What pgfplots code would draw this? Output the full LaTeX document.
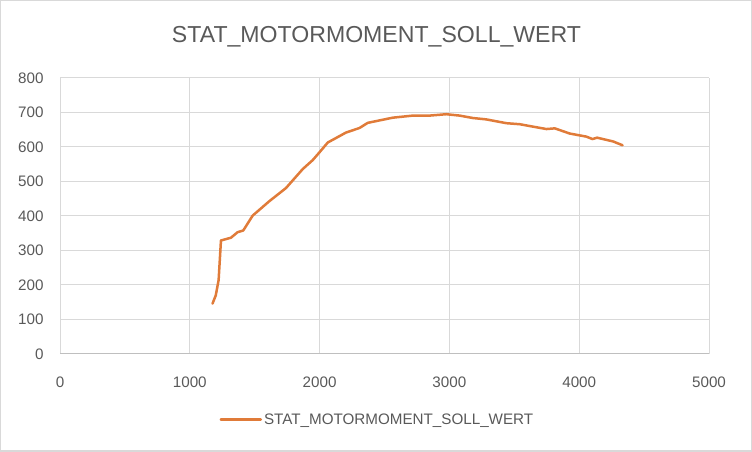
\documentclass[border=0pt]{standalone}
\usepackage{pgfplots}
\pgfplotsset{compat=1.18}
\usepackage{fontspec}
\setmainfont{Liberation Sans}
\definecolor{exorange}{HTML}{E07B39}
\definecolor{txtgray}{HTML}{595959}
\definecolor{gridgray}{HTML}{D9D9D9}
\definecolor{axgray}{HTML}{BFBFBF}
\begin{document}
\begin{tikzpicture}[x=1bp,y=1bp]
\draw[gridgray,line width=1.5bp] (0.75,0.75) rectangle (751.25,451.25);
\node[font=\fontsize{23.1bp}{26bp}\selectfont,text=txtgray] at (376.5,415) {STAT\_MOTORMOMENT\_SOLL\_WERT};
\begin{axis}[
  at={(60bp,98bp)}, anchor=south west,
  scale only axis, width=649bp, height=276bp,
  xmin=0, xmax=5000, ymin=0, ymax=800,
  xtick={0,1000,...,5000}, ytick={0,100,...,800},
  grid=major, major grid style={gridgray,line width=1bp},
  axis line style={axgray,line width=1bp},
  axis x line*=bottom, axis y line*=left,
  y axis line style={draw=none},
  tick style={draw=none},
  ticklabel style={font=\fontsize{15.2bp}{18bp}\selectfont,text=txtgray},
  /pgf/number format/assume math mode=true,
  /pgf/number format/1000 sep={},
  xticklabel style={yshift=-19bp},
  yticklabel style={xshift=-13bp},
  legend style={at={(0.489,-0.238)},anchor=center,draw=none,font=\fontsize{15.2bp}{18bp}\selectfont,text=txtgray},
  legend cell align=left,
  legend image code/.code={\draw[#1] (0bp,0bp) -- (40bp,0bp);},
]
\addplot[color=exorange,line width=2.5bp,line join=round,line cap=round] coordinates {
(1175,146) (1200,170) (1222,214) (1240,329) (1317,337) (1368,353) (1412,358)
(1484,401) (1613,443) (1741,481) (1870,536) (1947,562) (2000,585) (2063,613)
(2204,642) (2307,655) (2371,670) (2564,685) (2718,691) (2847,691) (2976,695)
(3079,691) (3181,684) (3284,680) (3439,669) (3542,666) (3644,659) (3748,652)
(3812,654) (3927,639) (4056,630) (4102,623) (4138,627) (4262,616) (4334,605)
};
\addlegendentry{STAT\_MOTORMOMENT\_SOLL\_WERT}
\end{axis}
\end{tikzpicture}
\end{document}
